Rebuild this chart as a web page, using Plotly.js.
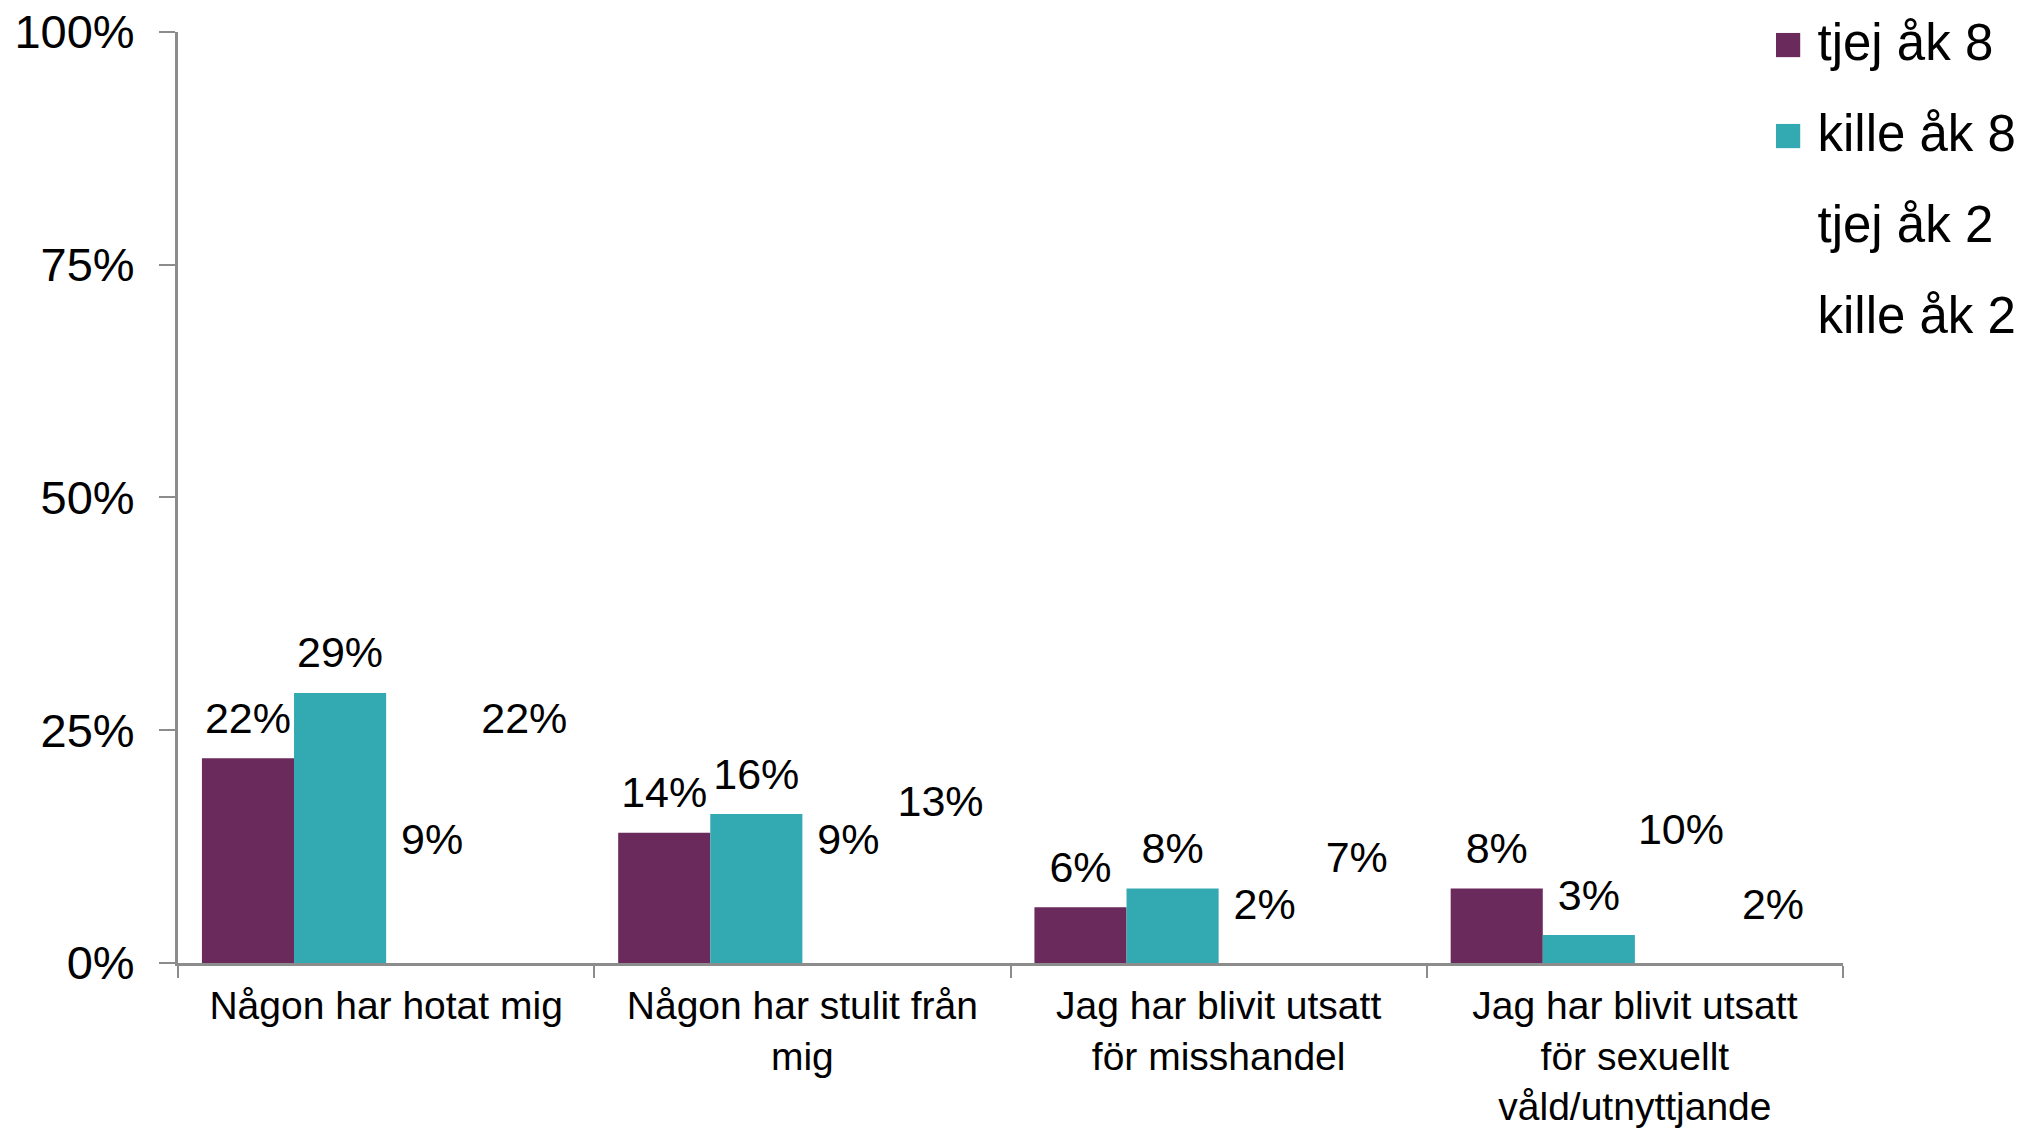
<!DOCTYPE html>
<html>
<head>
<meta charset="utf-8">
<script src="https://cdn.plot.ly/plotly-3.0.1.min.js"></script>
<style>
  html, body { margin: 0; padding: 0; background: #fff; }
  #chart { width: 2028px; height: 1133px; }
</style>
</head>
<body>
<div id="chart"></div>
<script>
// kategorier (frågor)
var categories = [
  "Någon har hotat mig",
  "Någon har stulit från<br>mig",
  "Jag har blivit utsatt<br>för misshandel",
  "Jag har blivit utsatt<br>för sexuellt<br>våld/utnyttjande"
];

var seriesNames = ["tjej åk 8", "kille åk 8", "tjej åk 2", "kille åk 2"];

// andel (0-1)
var tjejAk8 = [0.22, 0.14, 0.06, 0.08];
var killeAk8 = [0.29, 0.16, 0.08, 0.03];
var tjejAk2 = [0.09, 0.09, 0.02, 0.10];
var killeAk2 = [0.22, 0.13, 0.07, 0.02];

var yTicks = [0, 0.25, 0.5, 0.75, 1];
var yTickText = ["0%", "25%", "50%", "75%", "100%"];

// åk 2-staplarna syns inte i originalet, bara etiketterna
var seriesColors = ["#6A2A5C", "#33A9B1", "rgba(0,0,0,0)", "rgba(0,0,0,0)"];
var seriesValues = [tjejAk8, killeAk8, tjejAk2, killeAk2];

var fontFamily = "Liberation Sans, Arial, sans-serif";
var gap = 0.115;

var bars = seriesValues.map(function (vals, i) {
  return {
    type: "bar",
    name: seriesNames[i],
    x: categories,
    y: vals,
    marker: { color: seriesColors[i], line: { width: 0 } },
    showlegend: false,
    hoverinfo: "skip"
  };
});

// etiketter som egen scatter-trace, grupperad som staplarna
var labels = seriesValues.map(function (vals, i) {
  return {
    type: "scatter",
    mode: "markers+text",
    x: categories,
    y: vals,
    text: vals.map(function (v) { return Math.round(v * 100) + "%"; }),
    textposition: "top center",
    textfont: { family: fontFamily, size: 43, color: "#000" },
    marker: { size: 22, color: "rgba(0,0,0,0)" },
    cliponaxis: false,
    showlegend: false,
    hoverinfo: "skip"
  };
});

// legendposter på egna dolda axlar (stör inte grupperingen),
// med en stor fyrkant i texten i stället för plotlys lilla symbol
var legendItems = seriesNames.map(function (name, i) {
  return {
    type: "scatter",
    mode: "markers",
    x: [null],
    y: [null],
    xaxis: "x2",
    yaxis: "y2",
    name: "<span style='color:" + seriesColors[i] + ";font-size:50px'>■</span> " + name,
    marker: { color: "rgba(0,0,0,0)", size: 1 },
    legendgroup: "g" + i,
    hoverinfo: "skip"
  };
});

var layout = {
  width: 2028,
  height: 1133,
  paper_bgcolor: "#fff",
  plot_bgcolor: "#fff",
  // toppmarginalen ligger i yaxis.domain så att legenden når överkanten
  margin: { l: 178, r: 185, t: 0, b: 170 },
  barmode: "group",
  bargap: gap,
  bargroupgap: 0,
  scattermode: "group",
  scattergap: gap,
  font: { family: fontFamily, color: "#000" },
  showlegend: true,
  legend: {
    x: 0.934,
    y: 1.0,
    xanchor: "left",
    yanchor: "top",
    traceorder: "grouped",
    tracegroupgap: 22,
    font: { family: fontFamily, size: 51, color: "#000" },
    bgcolor: "rgba(0,0,0,0)",
    itemwidth: 30
  },
  xaxis: {
    type: "category",
    automargin: false,
    showline: true,
    linecolor: "#8C8C8C",
    linewidth: 3,
    ticks: "outside",
    tickson: "boundaries",
    ticklen: 12,
    tickwidth: 2,
    tickcolor: "#8C8C8C",
    ticklabelstandoff: 6,
    tickfont: { family: fontFamily, size: 39, color: "#000" },
    showgrid: false,
    zeroline: false
  },
  yaxis: {
    range: [0, 1],
    domain: [0, 0.9668],
    automargin: false,
    tickvals: yTicks,
    ticktext: yTickText,
    showline: true,
    linecolor: "#8C8C8C",
    linewidth: 3,
    ticks: "outside",
    ticklen: 16,
    tickwidth: 2,
    tickcolor: "#8C8C8C",
    ticklabelstandoff: 15,
    tickfont: { family: fontFamily, size: 47, color: "#000" },
    showgrid: false,
    zeroline: false
  },
  xaxis2: { overlaying: "x", visible: false, range: [0, 1] },
  yaxis2: { overlaying: "y", visible: false, range: [0, 1] }
};

Plotly.newPlot("chart", bars.concat(labels, legendItems), layout, { staticPlot: true });
</script>
</body>
</html>
